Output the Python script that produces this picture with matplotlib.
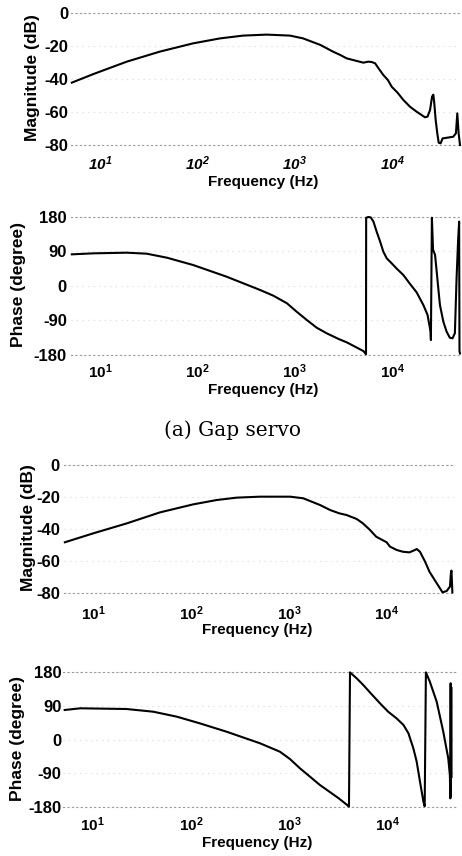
import math
import matplotlib
matplotlib.use("Agg")
import matplotlib.pyplot as plt
from matplotlib.ticker import FixedLocator, FuncFormatter, NullLocator

plt.rcParams['font.family'] = ['Liberation Sans', 'DejaVu Sans']
plt.rcParams['mathtext.fontset'] = 'custom'
plt.rcParams['mathtext.rm'] = 'Liberation Sans:bold'
plt.rcParams['mathtext.it'] = 'Liberation Sans:bold:italic'
plt.rcParams['mathtext.sf'] = 'Liberation Sans:bold:italic'
plt.rcParams['mathtext.bf'] = 'Liberation Sans:bold'

# ---------------- data ----------------
# (a) Gap servo - magnitude
gap_mag_freq = [5.1, 8.5, 18.7, 41, 90, 170, 294, 513, 893, 1220, 1840, 2470, 2950, 3420,
                5070, 5700, 6180, 6700, 7260, 8140, 9060, 9930, 11400, 13070, 15300, 17900,
                21800, 23200, 24600, 25800, 26600, 27200, 28100, 29200, 30200, 31600, 33100,
                42600, 45400, 46900, 48400, 50000]
gap_mag_db = [-42.2, -37.0, -29.5, -23.4, -18.4, -15.4, -13.7, -13.1, -13.7, -15.4, -19.4, -23.4, -25.5, -27.5,
              -30.1, -29.5, -29.7, -30.5, -33.5, -37.6, -40.6, -44.7, -48.3, -52.7, -56.8, -59.8,
              -63.2, -62.8, -58.8, -50.7, -49.5, -54.7, -64.8, -72.9, -78.6, -79.0, -76.0,
              -75.0, -72.9, -60.8, -72.9, -80.0]

# (a) Gap servo - phase
gap_ph_freq = [5.1, 8.5, 18.7, 30, 48.5, 90, 199, 440, 601, 830, 1045, 1330, 1680, 2130, 2870, 3420, 5070, 5400,
               5420, 5700, 6040, 6440, 6950, 7550, 8140, 8830, 9930, 11100, 13070, 15150, 17900,
               21000, 23200, 24900, 25100,
               25700, 26400, 27700, 28800, 29900, 31100, 33700, 36400, 39300, 41900, 44300,
               46100, 47900, 49000, 49400, 50000]
gap_ph_deg = [82.6, 85.2, 86.9, 84.3, 73.8, 54.8, 24.3, -10.4, -25.2, -45.0, -67.0, -88.7, -108.8, -123.4, -139.0, -146.9, -169.6, -178.0,
              178.0, 180.0, 179.0, 168.0, 141.7, 115.6, 89.5, 72.0, 59.0, 46.0, 28.7, 7.0, -16.5,
              -49.6, -75.6, -119.0, -141.0,
              178.0, 95.0, 81.0, 37.3, -6.0, -49.6, -93.0, -119.0, -135.0, -136.5, -123.0,
              20.0, 124.0, 168.0, -170.0, -176.0]

# second servo - magnitude
srv_mag_freq = [5.1, 9.97, 21.9, 48, 105, 182, 292, 505, 1030, 1400, 2080, 2630, 3270, 3880, 4940,
                5720, 6750, 7800, 9990, 10800, 12650, 14600, 17100, 19500, 20300, 21900, 24700,
                27400, 32500, 37300, 41100, 44400, 45400, 46000, 47000]
srv_mag_db = [-48.3, -42.7, -36.5, -29.6, -24.6, -21.9, -20.4, -19.8, -19.8, -20.8, -25.0, -28.1, -30.2, -31.25, -33.75,
              -36.5, -40.6, -44.8, -48.3, -51.0, -53.1, -54.2, -54.6, -53.1, -52.5, -54.2, -60.4,
              -66.7, -73.9, -79.6, -78.75, -76.0, -67.7, -66.0, -79.6]

# second servo - phase
srv_ph_freq = [5.2, 7.5, 22.2, 41.5, 72.2, 123, 231, 506, 806, 1020, 1290, 1630, 2060, 3200, 3900, 4070,
               4170, 4880, 5690, 6930, 8420, 10200, 12400, 14600, 16400, 18400, 19900, 21500, 23300, 24000,
               24700, 27100, 31800, 37100, 40200, 41700, 43300, 43800, 44100, 44400, 44700, 45000]
srv_ph_deg = [78.7, 83.2, 81.3, 74.1, 60.8, 43.2, 20.8, -10.1, -32.5, -52.0, -76.8, -99.0, -121.3, -156.8, -174.7, -179.0,
              179.0, 163.0, 145.3, 120.5, 96.5, 74.1, 56.5, 38.7, 16.5, -23.5, -59.2, -112.5, -165.8, -178.0,
              179.0, 154.0, 100.8, 20.8, -28.0, -50.0, -94.7, -157.0, 150.0, -150.0, 140.0, -100.0]

mag_ticks = [-80, -60, -40, -20, 0]
ph_ticks = [-180, -90, 0, 90, 180]
x_ticks = [10, 100, 1000, 10000]
caption = "(a) Gap servo"

# ---------------- layout ----------------
W, H = 462, 856
fig = plt.figure(figsize=(W / 100, H / 100), dpi=100)
fig.patch.set_facecolor('white')


def rect(l, r, t, b):
    return [l / W, 1 - b / H, (r - l) / W, (b - t) / H]


def fmt_sf(v, pos):
    return r'$\mathsf{10^{%d}}$' % round(math.log10(v))


def fmt_rm(v, pos):
    return r'$\mathrm{10^{%d}}$' % round(math.log10(v))


panels = [
    dict(r=rect(71, 460, 13, 145), f=gap_mag_freq, v=gap_mag_db, ticks=mag_ticks, ylim=(-80, 0),
         ylab='Magnitude (dB)', ylx=-0.100, xly=-0.28, fmt=fmt_sf, xpad=7, ypad=2),
    dict(r=rect(71, 460, 217, 355), f=gap_ph_freq, v=gap_ph_deg, ticks=ph_ticks, ylim=(-180, 180),
         ylab='Phase (degree)', ylx=-0.136, xly=-0.254, fmt=fmt_rm, xpad=5, ypad=3),
    dict(r=rect(64, 455, 465, 593), f=srv_mag_freq, v=srv_mag_db, ticks=mag_ticks, ylim=(-80, 0),
         ylab='Magnitude (dB)', ylx=-0.092, xly=-0.289, fmt=fmt_rm, xpad=8, ypad=3),
    dict(r=rect(63, 456, 672, 807), f=srv_ph_freq, v=srv_ph_deg, ticks=ph_ticks, ylim=(-180, 180),
         ylab='Phase (degree)', ylx=-0.117, xly=-0.267, fmt=fmt_rm, xpad=6, ypad=1),
]

for p in panels:
    ax = fig.add_axes(p['r'])
    ax.semilogx(p['f'], p['v'], color='black', lw=1.5, clip_on=False, zorder=3)
    ax.set_xlim(5, 5e4)
    ax.set_ylim(*p['ylim'])
    ax.xaxis.set_major_locator(FixedLocator(x_ticks))
    ax.xaxis.set_minor_locator(NullLocator())
    ax.xaxis.set_major_formatter(FuncFormatter(p['fmt']))
    ax.set_yticks(p['ticks'])
    ax.set_yticklabels([str(t) for t in p['ticks']])
    ax.tick_params(axis='x', length=0, labelsize=11, pad=p['xpad'])
    ax.tick_params(axis='y', length=0, labelsize=12, pad=p['ypad'])
    for lab in ax.get_yticklabels():
        lab.set_fontweight('bold')
    ax.grid(axis='y', color='#d8d8d8', linestyle=(0, (1, 4)), lw=0.8)
    for s in ('left', 'right'):
        ax.spines[s].set_visible(False)
    for s in ('top', 'bottom'):
        ax.spines[s].set_linestyle((0, (1, 3)))
        ax.spines[s].set_color('#9a9a9a')
        ax.spines[s].set_linewidth(0.8)
    ax.set_xlabel('Frequency (Hz)', fontsize=11, fontweight='bold', va='center')
    ax.xaxis.set_label_coords(0.495, p['xly'])
    ax.set_ylabel(p['ylab'], fontsize=12.5, fontweight='bold', va='center')
    ax.yaxis.set_label_coords(p['ylx'], 0.51)

fig.text(233 / W, 1 - 430 / H, caption, family='DejaVu Serif', fontsize=14.5,
         ha='center', va='center')

fig.savefig('out.png', dpi=100, facecolor='white')
